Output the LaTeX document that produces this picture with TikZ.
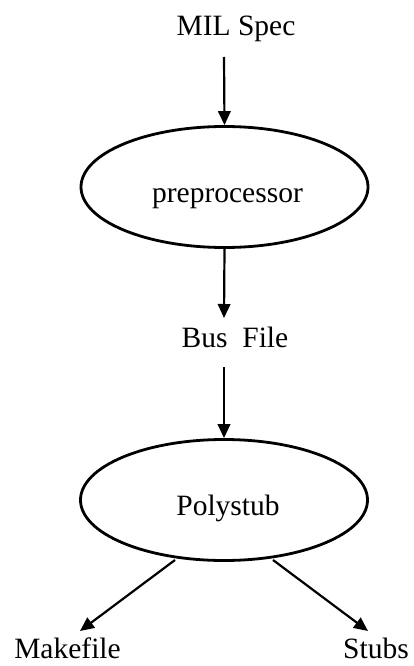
\documentclass[tikz,border=0pt]{standalone}
\usepackage{fontspec}
\setmainfont{Liberation Serif}
\usetikzlibrary{arrows.meta,shapes.geometric}
\tikzset{
  lbl/.style={anchor=base, inner sep=0pt, font=\fontsize{29.5}{35}\selectfont},
  proc/.style={ellipse, draw, line width=2.8pt, minimum width=287pt, minimum height=121pt, inner sep=0pt},
  arr/.style={line width=2.2pt, -{Triangle[length=14pt,width=12.5pt]}}
}
\begin{document}
\begin{tikzpicture}[x=1pt, y=-1pt]
  \useasboundingbox (0,0) rectangle (413,666);

  % processing stages
  \node[proc] (pre) at (224.5,187) {};
  \node[proc] (poly) at (224,500) {};

  % labels
  \node[lbl] (mil) at (236,36) {MIL Spec};
  \node[lbl] (pretext) at (227.5,202) {preprocessor};
  \node[lbl] (bus) at (235,347) {Bus\ \ File};
  \node[lbl] (polytext) at (228,515) {Polystub};
  \node[lbl] (make) at (67.5,658) {Makefile};
  \node[lbl] (stubs) at (376,658) {Stubs};

  % connector ends
  \coordinate (milout) at (224,57);
  \coordinate (busin) at (224,318);
  \coordinate (busout) at (224,367);
  \coordinate (polyl) at (175,560);
  \coordinate (polyr) at (273,560);
  \coordinate (makein) at (80,631);
  \coordinate (stubsin) at (368,631);

  % flow
  \draw[arr] (milout) -- (pre.north);
  \draw[arr] (pre.south) -- (busin);
  \draw[arr] (busout) -- (poly.north);
  \draw[arr] (polyl) -- (makein);
  \draw[arr] (polyr) -- (stubsin);
\end{tikzpicture}
\end{document}
